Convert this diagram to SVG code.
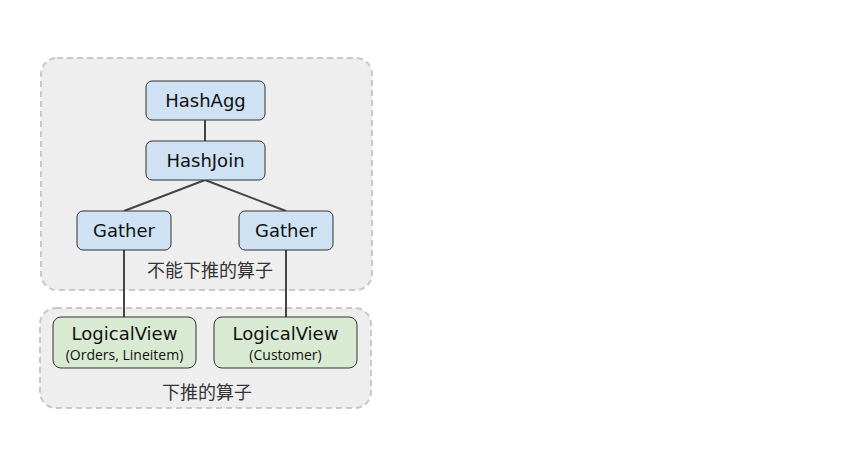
<svg xmlns="http://www.w3.org/2000/svg" width="861" height="462" viewBox="0 0 861 462">
<style>
.grp{fill:#eeeeee;stroke:#c8c8c8;stroke-width:2;stroke-dasharray:6 4}
.blue{fill:#cfe2f3;stroke:#333;stroke-width:1}
.green{fill:#d9ead3;stroke:#333;stroke-width:1}
.t{font-family:'DejaVu Sans',Verdana,sans-serif;font-size:18px;fill:#111;text-anchor:middle}
.s{font-family:'Open Sans','Noto Sans',sans-serif;font-size:14px;fill:#111;text-anchor:middle}
.c{font-family:'Noto Sans CJK SC',sans-serif;font-size:18px;fill:#333;text-anchor:middle}
.e{stroke:#444;stroke-width:2;fill:none}
</style>
<rect width="861" height="462" fill="#fff"/>
<g id="group-upper">
<rect class="grp" x="41" y="58" width="331" height="232" rx="16"/>
<text class="c" x="210" y="277">不能下推的算子</text>
</g>
<g id="group-lower">
<rect class="grp" x="40" y="308" width="331" height="100" rx="16"/>
<text class="c" x="207" y="399">下推的算子</text>
</g>
<g id="connectors">
<line class="e" x1="205" y1="120" x2="205" y2="141"/>
<line class="e" x1="205" y1="180" x2="124" y2="211"/>
<line class="e" x1="205" y1="180" x2="286" y2="211"/>
<line class="e" x1="124" y1="250" x2="124" y2="317"/>
<line class="e" x1="286" y1="250" x2="286" y2="317"/>
</g>
<g id="hashagg">
<rect class="blue" x="146" y="81" width="119" height="39" rx="6"/>
<text class="t" x="205.5" y="107">HashAgg</text>
</g>
<g id="hashjoin">
<rect class="blue" x="146" y="141" width="119" height="39" rx="6"/>
<text class="t" x="205.5" y="167">HashJoin</text>
</g>
<g id="gather-left">
<rect class="blue" x="77" y="211" width="94" height="39" rx="6"/>
<text class="t" x="124" y="237">Gather</text>
</g>
<g id="gather-right">
<rect class="blue" x="239" y="211" width="94" height="39" rx="6"/>
<text class="t" x="286" y="237">Gather</text>
</g>
<g id="logicalview-left">
<rect class="green" x="53" y="317" width="143" height="51" rx="8"/>
<text class="t" x="124.5" y="340">LogicalView</text>
<text class="s" x="124.5" y="360">(Orders, Lineitem)</text>
</g>
<g id="logicalview-right">
<rect class="green" x="214" y="317" width="143" height="51" rx="8"/>
<text class="t" x="285.5" y="340">LogicalView</text>
<text class="s" x="285.5" y="360">(Customer)</text>
</g>
</svg>
